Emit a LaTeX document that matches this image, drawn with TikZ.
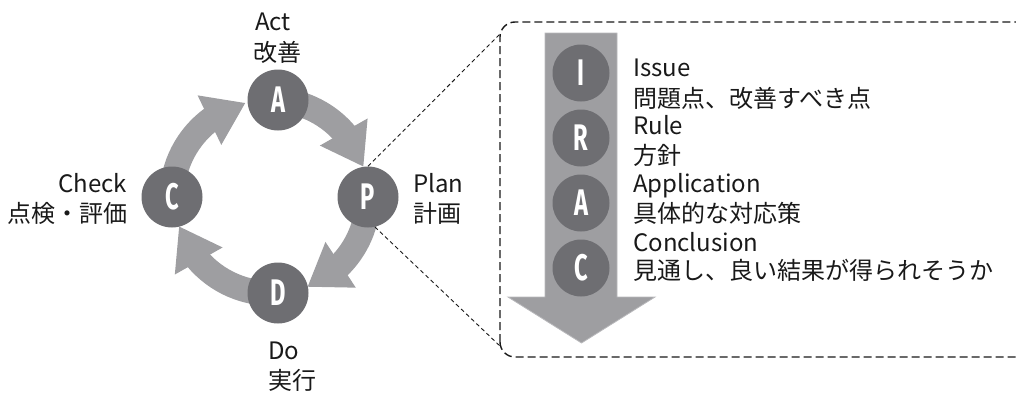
\documentclass[tikz,border=0pt]{standalone}
\usepackage{fontspec}
\newfontfamily\jp{Noto Sans CJK JP}
\newfontfamily\letf{Fira Sans}
\usetikzlibrary{arrows.meta,bending,backgrounds}
\definecolor{arrowgray}{RGB}{158,158,161}
\definecolor{circgray}{RGB}{110,110,114}
\definecolor{shaftedge}{RGB}{185,185,188}
\definecolor{textblack}{RGB}{25,25,25}
\newcommand{\circletter}[1]{\scalebox{0.64}[1]{#1}}
\begin{document}
\begin{tikzpicture}[x=1pt,y=1pt,
  cyc/.style={line width=25pt, draw=arrowgray, -{Triangle[width=52pt,length=40pt]}},
  bigdot/.style={circle, fill=circgray, minimum size=61pt, inner sep=0pt, text=white, font=\letf\bfseries\fontsize{37}{37}\selectfont},
  smalldot/.style={bigdot, minimum size=57pt},
  lbl/.style={font=\jp\fontsize{24}{28}\selectfont, inner sep=0pt, text=textblack},
  boxdash/.style={draw=textblack, line width=1.4pt, dash pattern=on 8pt off 4pt, rounded corners=15pt},
  zoomdash/.style={draw=textblack, line width=0.9pt, dash pattern=on 4pt off 3pt}
]
\useasboundingbox (0,0) rectangle (1016,392);
\clip (0,0) rectangle (1016,392);

% PDCA circles
\node[bigdot] (A) at (278,292) {\circletter{A}};
\node[bigdot] (P) at (368,195) {\circletter{P}};
\node[bigdot] (D) at (278,99) {\circletter{D}};
\node[bigdot] (C) at (172,195) {\circletter{C}};

\begin{scope}[on background layer]
\draw[cyc] (A.center) arc[start angle=86, end angle=18, radius=97];
\draw[cyc] (P.center) arc[start angle=0, end angle=-68, radius=97];
\draw[cyc] (D.center) arc[start angle=-86, end angle=-162, radius=97];
\draw[cyc] (C.center) arc[start angle=180, end angle=104, radius=97];
\end{scope}

% PDCA labels
\node[lbl, anchor=base west] (act) at (255,361) {Act};
\node[lbl, anchor=base west] (actj) at (253,331) {改善};
\node[lbl, anchor=base east] (chk) at (127,200) {Check};
\node[lbl, anchor=base east] (chkj) at (128,170) {点検・評価};
\node[lbl, anchor=base west] (pln) at (413,200) {Plan};
\node[lbl, anchor=base west] (plnj) at (413,170) {計画};
\node[lbl, anchor=base west] (dos) at (268,33) {Do};
\node[lbl, anchor=base west] (doj) at (268,3) {実行};

% dashed box
\draw[boxdash] (500,35) rectangle (1040,370);
\coordinate (bt) at (501,359);
\coordinate (bb) at (501,45);
\draw[zoomdash] (P.90) -- (bt);
\draw[zoomdash] (P.-77) -- (bb);

% IRAC arrow
\path[fill=arrowgray, draw=shaftedge, line width=0.8pt]
  (545,359) -- (617,359) -- (617,95) -- (655,95) -- (581.5,49) -- (508,95) -- (545,95) -- cycle;
\node[smalldot] (I) at (581,319) {\circletter{I}};
\node[smalldot] (R) at (581,254) {\circletter{R}};
\node[smalldot] (A2) at (581,189) {\circletter{A}};
\node[smalldot] (C2) at (581,124) {\circletter{C}};

% IRAC texts
\node[lbl, anchor=base west] (t1) at (633,316) {Issue};
\node[lbl, anchor=base west] (t2) at (633,285) {問題点、改善すべき点};
\node[lbl, anchor=base west] (t3) at (633,258) {Rule};
\node[lbl, anchor=base west] (t4) at (633,228) {方針};
\node[lbl, anchor=base west] (t5) at (633,200) {Application};
\node[lbl, anchor=base west] (t6) at (633,170) {具体的な対応策};
\node[lbl, anchor=base west] (t7) at (633,141) {Conclusion};
\node[lbl, anchor=base west] (t8) at (633,113) {見通し、良い結果が得られそうか};
\end{tikzpicture}
\end{document}
